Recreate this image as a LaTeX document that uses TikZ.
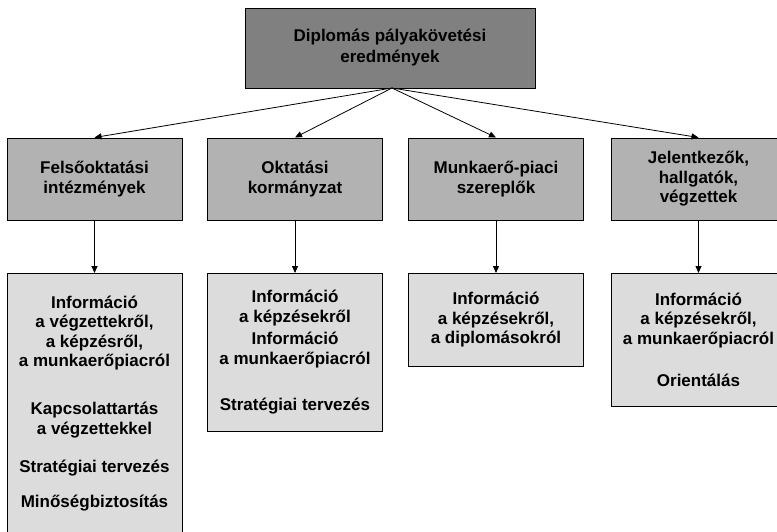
\documentclass[tikz,border=0pt]{standalone}
\usepackage{fontspec}
\setmainfont{Liberation Sans}
\usetikzlibrary{arrows.meta}
\definecolor{topgray}{HTML}{808080}
\definecolor{midgray}{HTML}{B2B2B2}
\definecolor{lowgray}{HTML}{DCDCDC}
\begin{document}
\begin{tikzpicture}[x=1pt,y=1pt,
  box/.style={draw=black, line width=1pt, minimum width=175pt, inner sep=0pt,
    align=center, font=\bfseries\fontsize{17}{19.5}\selectfont},
  topbox/.style={box, fill=topgray, minimum width=290pt, minimum height=80pt,
    font=\bfseries\fontsize{17}{21}\selectfont},
  actor/.style={box, fill=midgray, minimum height=82pt},
  info/.style={box, fill=lowgray, anchor=north},
  link/.style={-{Triangle[length=7pt,width=6pt]}, line width=0.8pt}
]
\useasboundingbox (0,0) rectangle (777,-531);

% head of the hierarchy
\node[topbox] (top) at (390,-48) {Diplomás pályakövetési\\eredmények};

% stakeholder groups
\node[actor] (fels) at (94.5,-179) {Felsőoktatási\\intézmények};
\node[actor] (korm) at (295,-179)  {Oktatási\\kormányzat};
\node[actor] (munk) at (496,-179)  {Munkaerő-piaci\\szereplők};
\node[actor] (jel)  at (698.5,-179) {Jelentkezők,\\hallgatók,\\végzettek};

% uses of the results
\node[info, minimum height=260pt] (ufels) at (94.5,-273)
  {Információ\\a végzettekről,\\a képzésről,\\a munkaerőpiacról\\[28.5pt]
   Kapcsolattartás\\a végzettekkel\\[19pt]
   Stratégiai tervezés\\[15.5pt]
   Minőségbiztosítás};
\node[info, minimum height=158pt] (ukorm) at (295,-273)
  {Információ\\a képzésekről\\[3pt]Információ\\a munkaerőpiacról\\[27pt]
   Stratégiai tervezés};
\node[info, minimum height=93pt] (umunk) at (496,-273)
  {Információ\\a képzésekről,\\a diplomásokról};
\node[info, minimum height=133pt] (ujel) at (698.5,-273)
  {Információ\\a képzésekről,\\a munkaerőpiacról\\[23pt]Orientálás};

% connectors
\coordinate (hub) at (392,-88);
\foreach \n in {fels,korm,munk,jel}
  \draw[link] (hub) -- (\n.north);
\draw[link] (fels.south) -- (ufels.north);
\draw[link] (korm.south) -- (ukorm.north);
\draw[link] (munk.south) -- (umunk.north);
\draw[link] (jel.south)  -- (ujel.north);
\end{tikzpicture}
\end{document}
